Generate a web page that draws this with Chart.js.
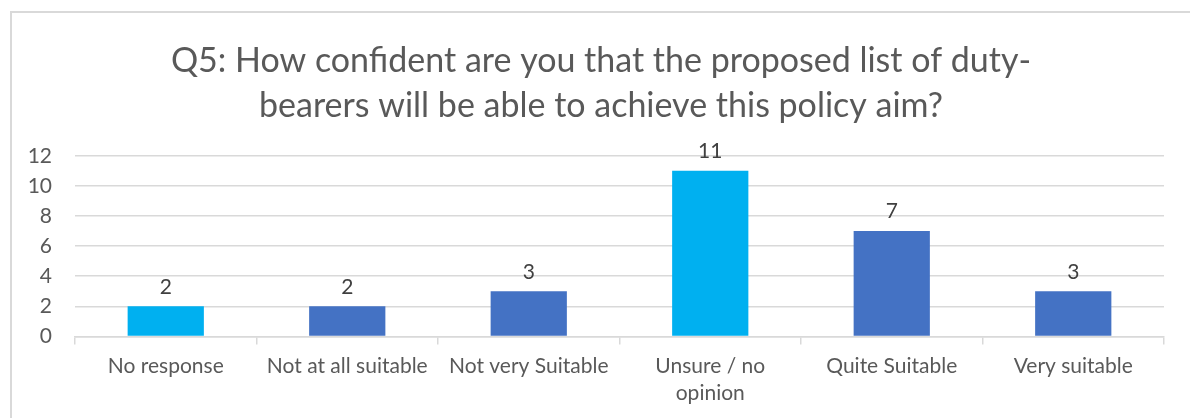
<!DOCTYPE html>
<html>
<head>
<meta charset="utf-8">
<script src="https://cdn.jsdelivr.net/npm/chart.js@4/dist/chart.umd.min.js"></script>
<style>
  html, body { margin: 0; padding: 0; background: #fff; }
  #wrap { position: relative; width: 1190px; height: 418px; overflow: hidden; }
  #frame { position: absolute; left: 10px; top: 11px; width: 1200px; height: 420px;
           border-left: 2px solid #D9D9D9; border-top: 2px solid #D9D9D9; box-sizing: border-box; }
  canvas { position: absolute; left: 0; top: 0; }
</style>
</head>
<body>
<div id="wrap">
  <div id="frame"></div>
  <canvas id="myChart" width="1190" height="418"></canvas>
</div>
<script>
// Survey responses for Q5
var labels = ['No response', 'Not at all suitable', 'Not very Suitable', ['Unsure / no', 'opinion'], 'Quite Suitable', 'Very suitable'];
var counts = [2, 2, 3, 11, 7, 3];
var barColors = ['#00B0F0', '#4472C4', '#4472C4', '#00B0F0', '#4472C4', '#4472C4'];
var yTicks = [0, 2, 4, 6, 8, 10, 12];

var fontFamily = 'Lato, "Open Sans", sans-serif';

// Draw the count above each bar
var valueLabels = {
    id: 'valueLabels',
    afterDatasetsDraw: function(chart) {
        var ctx = chart.ctx;
        var meta = chart.getDatasetMeta(0);
        ctx.save();
        ctx.font = '21px ' + fontFamily;
        ctx.fillStyle = '#404040';
        ctx.textAlign = 'center';
        ctx.textBaseline = 'bottom';
        meta.data.forEach(function(bar, i) {
            ctx.fillText(String(counts[i]), bar.x, bar.y - 9);
        });
        ctx.restore();
    }
};

var ctx = document.getElementById('myChart').getContext('2d');
var myChart = new Chart(ctx, {
    type: 'bar',
    data: {
        labels: labels,
        datasets: [{
            data: counts,
            backgroundColor: barColors,
            borderWidth: 0,
            barPercentage: 0.42,
            categoryPercentage: 1
        }]
    },
    options: {
        responsive: false,
        animation: false,
        layout: {
            padding: { top: 14, left: 12, right: 0, bottom: 3 }
        },
        plugins: {
            legend: { display: false },
            tooltip: { enabled: false },
            title: {
                display: true,
                text: ['Q5: How confident are you that the proposed list of duty-', 'bearers will be able to achieve this policy aim?'],
                color: '#595959',
                font: { family: fontFamily, size: 34, weight: 'normal', lineHeight: 1.32 },
                padding: { top: 25, bottom: 27 }
            }
        },
        scales: {
            x: {
                grid: {
                    offset: true,
                    drawOnChartArea: false,
                    drawTicks: true,
                    tickLength: 8,
                    color: '#D9D9D9',
                    lineWidth: 1.5
                },
                border: { color: '#D9D9D9', width: 1.5 },
                ticks: {
                    color: '#595959',
                    font: { family: fontFamily, size: 21, lineHeight: 1.3 },
                    padding: 8,
                    maxRotation: 0,
                    autoSkip: false
                }
            },
            y: {
                min: 0,
                max: 12,
                afterBuildTicks: function(axis) {
                    axis.ticks = yTicks.map(function(v) { return { value: v }; });
                },
                afterFit: function(axis) {
                    axis.width = 63;
                },
                grid: {
                    drawTicks: false,
                    color: '#D9D9D9',
                    lineWidth: 1.5
                },
                border: { display: false },
                ticks: {
                    color: '#595959',
                    font: { family: fontFamily, size: 21 },
                    padding: 23
                }
            },
            // empty right-hand axis, only reserves the margin after the plot
            yRight: {
                position: 'right',
                min: 0,
                max: 12,
                afterFit: function(axis) {
                    axis.width = 26;
                },
                grid: { display: false },
                border: { display: false },
                ticks: { display: false }
            }
        }
    },
    plugins: [valueLabels]
});
</script>
</body>
</html>
